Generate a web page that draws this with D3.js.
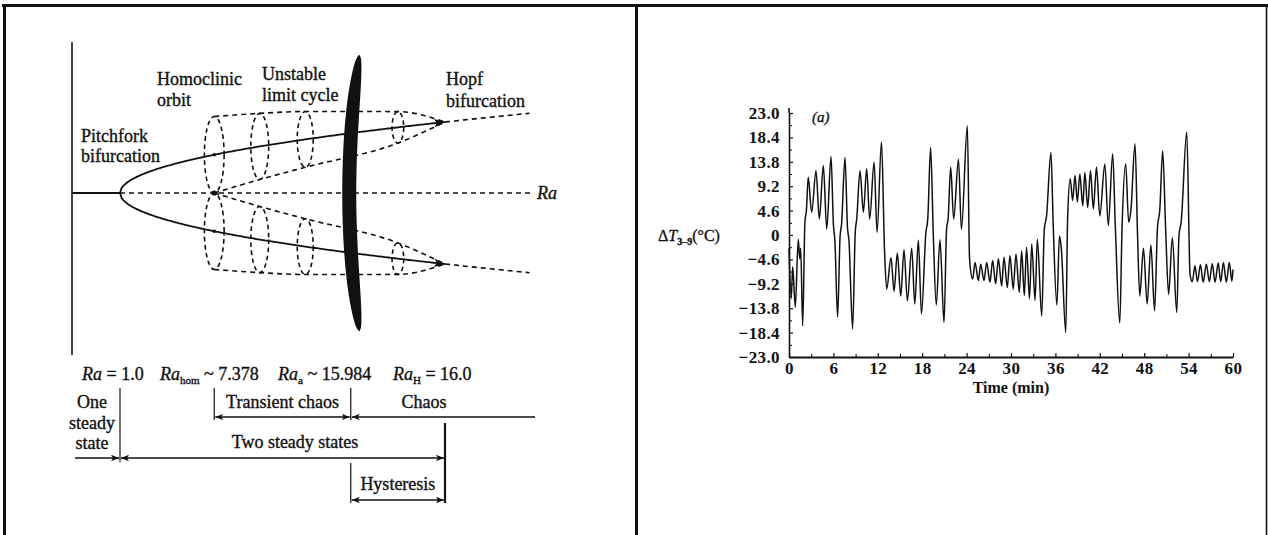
<!DOCTYPE html>
<html>
<head>
<meta charset="utf-8">
<script src="https://cdn.jsdelivr.net/npm/d3@7/dist/d3.min.js"></script>
<style>
  html, body { margin: 0; padding: 0; background: #fff; }
  svg { display: block; }
  .serif { font-family: "Liberation Serif", "DejaVu Serif", serif; fill: #111; }
  .heavy { stroke: #111; stroke-width: 0.35px; }
</style>
</head>
<body>
<svg id="fig" width="1268" height="535"></svg>
<script>
// ---------- Left panel: bifurcation sequence of the Lorenz-type loop ----------
const criticalLabels = [
  { base: "Ra", sub: "", rel: "= 1.0" },
  { base: "Ra", sub: "hom", rel: "~ 7.378" },
  { base: "Ra", sub: "a", rel: "~ 15.984" },
  { base: "Ra", sub: "H", rel: "= 16.0" }
];
const criticalRa = [1.0, 7.378, 15.984, 16.0];
// schematic stage of each critical value along the diagram (0 = pitchfork, 1 = Hopf)
const criticalStage = [0, 0.29, 0.71, 1.0];

// unstable limit cycles drawn as cross-sections: stage and radius relative to the branch offset
const cycleStage = [0.29, 0.43, 0.57, 0.855];
const cycleRelRadius = [1.0, 0.71, 0.52, 0.24];

// ---------- Right panel: measured temperature difference ----------
const timeMin = [
  0.00, 0.30, 0.50, 0.85, 1.25, 1.45, 1.58, 1.85, 2.15, 2.35, 2.60,
  3.06, 3.65, 4.10, 4.64, 5.10, 5.68,
  6.00, 6.20, 6.57, 6.90, 7.10, 7.57, 7.90, 8.10, 8.60, 8.95, 9.15, 9.60,
  10.05, 10.50, 10.90, 11.50, 11.90, 12.50,
  12.90, 13.20, 13.78, 14.20, 14.64, 15.10, 15.54, 16.00, 16.58, 17.00, 17.48, 17.90, 18.50, 18.75, 19.14,
  19.50, 19.90, 20.40, 20.95, 21.30, 21.50, 21.85, 22.25, 22.90, 23.30, 24.10,
  24.40, 24.82, 25.14, 25.59, 25.90, 26.35, 26.71, 27.16, 27.52, 27.93, 28.29, 28.74, 29.05, 29.50,
  29.86, 30.30, 30.67, 31.12, 31.44, 31.80, 32.10, 32.50, 32.80, 33.25, 33.56, 34.15,
  34.50, 34.80, 35.40, 35.70, 36.20, 36.55, 36.80, 37.40, 37.65, 38.00,
  38.33, 38.65, 38.97, 39.30, 39.70, 39.98, 40.36, 40.74, 41.13, 41.55, 42.00, 42.68, 43.15, 43.74,
  44.10, 44.70, 45.00, 45.50, 45.90, 46.20, 46.76, 47.10, 47.40, 47.90, 48.40, 48.90, 49.40, 49.80, 50.10, 50.50,
  50.90, 51.30, 51.80, 52.40, 52.70, 53.00, 53.75,
  54.20, 54.50, 54.86, 55.20, 55.60, 55.97, 56.40, 56.80, 57.20, 57.57, 58.00, 58.34, 58.70, 59.10, 59.50, 59.85, 60.00
];
const deltaT = [
  -2.5, -12.0, -6.0, -13.6, -0.8, -4.5, -2.5, -17.1, 2.4, 4.6, 10.9,
  4.3, 12.1, 3.0, 13.1, 1.1, 14.8,
  2.0, -1.0, -15.5, -0.3, 2.0, 14.6, 1.5, -1.0, -17.7, 0.5, 3.0, 12.1,
  4.3, 12.5, 3.0, 13.7, 0.5, 17.6,
  -2.5, -10.2, -4.3, -10.6, -3.4, -11.5, -2.8, -12.4, -2.5, -13.0, -1.0, -14.9, 0.5, 3.0, 16.5,
  0.0, -13.2, -0.9, -16.5, 1.3, 3.0, 12.8, 3.0, 14.3, 1.1, 20.6,
  -4.5, -8.3, -5.2, -8.6, -5.5, -8.6, -5.2, -8.9, -4.8, -9.2, -4.5, -9.6, -4.2, -9.9,
  -3.9, -10.2, -3.6, -10.8, -3.0, -11.4, -2.3, -12.0, -1.7, -12.3, -0.8, -15.3,
  1.1, 3.5, 15.6, 2.0, -13.2, -0.2, -2.5, -18.4, 3.1, 10.6,
  6.5, 11.2, 6.2, 11.5, 5.5, 11.8, 5.2, 12.1, 4.9, 12.8, 3.6, 13.4, 1.8, 15.3,
  1.5, -16.6, 1.0, 13.4, 2.4, 4.6, 17.2, 0.0, -11.5, -2.5, -13.0, -1.9, -14.3, 1.5, 4.6, 15.9,
  1.0, -11.2, -0.5, -14.6, -0.1, 2.5, 19.4,
  -7.5, -8.8, -5.8, -8.8, -5.6, -8.9, -5.5, -8.8, -5.4, -8.9, -5.3, -8.8, -5.2, -8.9, -5.2, -8.7, -6.5
];
const timeTicks = [0, 6, 12, 18, 24, 30, 36, 42, 48, 54, 60];
const tempTicks = [-23.0, -18.4, -13.8, -9.2, -4.6, 0, 4.6, 9.2, 13.8, 18.4, 23.0];

// ---------------------------------------------------------------------------
const svg = d3.select("#fig");
const ink = "#111";
const dash = "5,4";

// arrowheads
const defs = svg.append("defs");
function arrowMarker(id, size) {
  defs.append("marker")
    .attr("id", id)
    .attr("viewBox", "0 0 10 10")
    .attr("refX", 10).attr("refY", 5)
    .attr("markerWidth", size).attr("markerHeight", size)
    .attr("markerUnits", "userSpaceOnUse")
    .attr("orient", "auto-start-reverse")
    .append("path")
    .attr("d", "M0,1 L10,5 L0,9 L2.5,5 Z")
    .attr("fill", ink);
}
arrowMarker("arr", 8);
arrowMarker("arrBig", 11);

// outer frame
const frame = svg.append("g").attr("stroke", ink).attr("fill", "none");
frame.append("line").attr("x1", 2).attr("x2", 1268).attr("y1", 5.5).attr("y2", 5.5).attr("stroke-width", 3);
frame.append("line").attr("x1", 4.5).attr("x2", 4.5).attr("y1", 4).attr("y2", 535).attr("stroke-width", 3);
frame.append("line").attr("x1", 636.5).attr("x2", 636.5).attr("y1", 4).attr("y2", 535).attr("stroke-width", 3);
frame.append("line").attr("x1", 1266.5).attr("x2", 1266.5).attr("y1", 4).attr("y2", 535).attr("stroke-width", 1.6);

// ===================== left panel =====================
const L = svg.append("g");
const stageX = d3.scaleLinear().domain([0, 1]).range([120, 445]);
const raX = d3.scaleLinear().domain(criticalRa).range(criticalStage.map(stageX));
const axisY = 193;
const branchAmp = 71;        // offset of the convective branches at the Hopf point
const axisLeftX = 72, axisRightX = 530;
const stageEnd = stageX.invert(axisRightX);
const offset = s => branchAmp * Math.sqrt(Math.max(0, s));

// vertical axis
L.append("line").attr("x1", axisLeftX).attr("x2", axisLeftX).attr("y1", 42).attr("y2", 355)
  .attr("stroke", ink).attr("stroke-width", 1.6);

// conduction state: stable up to the pitchfork, unstable beyond
L.append("line").attr("x1", axisLeftX).attr("x2", stageX(0)).attr("y1", axisY).attr("y2", axisY)
  .attr("stroke", ink).attr("stroke-width", 1.8);
L.append("line").attr("x1", stageX(0)).attr("x2", axisRightX).attr("y1", axisY).attr("y2", axisY)
  .attr("stroke", ink).attr("stroke-width", 1.6).attr("stroke-dasharray", dash);

// convective branches
const lineXY = d3.line().x(d => d[0]).y(d => d[1]);
[-1, 1].forEach(sign => {
  const solid = d3.range(0, 1.0001, 0.005).map(s => [stageX(s), axisY + sign * offset(s)]);
  const broken = d3.range(1, stageEnd + 0.001, 0.01).map(s => [stageX(s), axisY + sign * offset(s)]);
  L.append("path").attr("d", lineXY(solid)).attr("fill", "none")
    .attr("stroke", ink).attr("stroke-width", 1.8).attr("marker-end", "url(#arrBig)");
  L.append("path").attr("d", lineXY(broken)).attr("fill", "none")
    .attr("stroke", ink).attr("stroke-width", 1.6).attr("stroke-dasharray", dash);

  // cone of unstable limit cycles shrinking onto the branch at the Hopf point
  const outer = cycleStage.map((s, i) => [stageX(s), axisY + sign * offset(s) * (1 + cycleRelRadius[i])]);
  const inner = cycleStage.map((s, i) => [stageX(s), axisY + sign * offset(s) * (1 - cycleRelRadius[i])]);
  const hopf = [stageX(1), axisY + sign * offset(1)];
  const smooth = d3.line().x(d => d[0]).y(d => d[1]).curve(d3.curveMonotoneX);
  L.append("path").attr("d", smooth(outer.concat([hopf]))).attr("fill", "none")
    .attr("stroke", ink).attr("stroke-width", 1.6).attr("stroke-dasharray", dash);
  L.append("path").attr("d", smooth(inner.concat([hopf]))).attr("fill", "none")
    .attr("stroke", ink).attr("stroke-width", 1.6).attr("stroke-dasharray", dash);

  // cross-sections of the limit cycles
  cycleStage.forEach((s, i) => {
    const ry = offset(s) * cycleRelRadius[i];
    L.append("ellipse")
      .attr("cx", stageX(s)).attr("cy", axisY + sign * offset(s))
      .attr("rx", 3 + ry * 0.18).attr("ry", ry)
      .attr("fill", "none").attr("stroke", ink).attr("stroke-width", 1.6)
      .attr("stroke-dasharray", "4.5,3.5");
  });

  // small flow marks on the branch near the homoclinic orbit
  L.append("circle").attr("cx", stageX(criticalStage[1])).attr("cy", axisY + sign * offset(criticalStage[1]))
    .attr("r", 1.8).attr("fill", ink);
});

// homoclinic point on the axis
L.append("circle").attr("cx", raX(criticalRa[1])).attr("cy", axisY).attr("r", 2.6).attr("fill", ink);

// strange attractor, drawn as a dark lens at Ra_a
const lensX = raX(criticalRa[2]);
const lens = d3.area()
  .y(t => axisY + t * 138.5)
  .x0(t => lensX - 1.5 + 10 * t * t - 7 * Math.sqrt(Math.max(0, 1 - Math.pow(Math.abs(t), 4))))
  .x1(t => lensX - 1.5 + 10 * t * t + 7 * Math.sqrt(Math.max(0, 1 - Math.pow(Math.abs(t), 4))))
  .curve(d3.curveBasis);
L.append("path").attr("d", lens(d3.range(-1, 1.0001, 0.02))).attr("fill", ink);

// annotations
const fs = 18;
function multiline(g, lines, x, y, lh, anchor) {
  const t = g.append("text").attr("class", "serif heavy").attr("font-size", fs)
    .attr("text-anchor", anchor || "start");
  lines.forEach((s, i) => t.append("tspan").attr("x", x).attr("y", y + i * lh).text(s));
  return t;
}
multiline(L, ["Pitchfork", "bifurcation"], 81, 142, 20);
multiline(L, ["Homoclinic", "orbit"], 157, 85, 21);
multiline(L, ["Unstable", "limit cycle"], 262, 80, 21);
multiline(L, ["Hopf", "bifurcation"], 446, 85, 22);
L.append("text").attr("class", "serif heavy").attr("font-size", fs).attr("font-style", "italic")
  .attr("x", 537).attr("y", 199).text("Ra");

// critical values
const critX = [82, 160, 278, 393];
const crit = L.append("text").attr("class", "serif heavy").attr("font-size", fs).attr("y", 380);
criticalLabels.forEach((c, i) => {
  crit.append("tspan").attr("x", critX[i]).attr("font-style", "italic").text(c.base);
  if (c.sub) crit.append("tspan").attr("font-size", 11).attr("dy", 4).text(c.sub);
  crit.append("tspan").attr("dy", c.sub ? -4 : 0).text(" " + c.rel);
});

// regime bars
const R = L.append("g").attr("stroke", ink).attr("fill", "none");
const x1 = raX(criticalRa[0]), xh = raX(criticalRa[1]), xa = raX(criticalRa[2]), xH = raX(criticalRa[3]);
const yChaos = 417, ySteady = 458, yHyst = 500;
function vline(x, ya, yb, w) {
  R.append("line").attr("x1", x).attr("x2", x).attr("y1", ya).attr("y2", yb).attr("stroke-width", w || 1.2);
}
function hline(xa_, xb_, y, startArrow, endArrow) {
  const l = R.append("line").attr("x1", xa_).attr("x2", xb_).attr("y1", y).attr("y2", y).attr("stroke-width", 1.4);
  if (startArrow) l.attr("marker-start", "url(#arr)");
  if (endArrow) l.attr("marker-end", "url(#arr)");
}
vline(x1, 388, 462);
vline(xh, 388, 420);
vline(xa, 388, 420);
vline(xa, 463, 503);
vline(xH, 423, 503, 2.2);
hline(xh + 1, xa - 1, yChaos, true, true);
hline(xa + 1, 535, yChaos, true, false);
hline(75, x1 - 1, ySteady, false, true);
hline(x1 + 1, xH - 1, ySteady, true, true);
hline(xa + 1, xH - 1, yHyst, true, true);

const tx = (s, x, y, anchor) => L.append("text").attr("class", "serif heavy").attr("font-size", fs)
  .attr("x", x).attr("y", y).attr("text-anchor", anchor || "middle").text(s);
tx("Transient chaos", (xh + xa) / 2, 408);
tx("Chaos", 424, 408);
multiline(L, ["One", "steady", "state"], 92, 408, 20.5, "middle");
tx("Two steady states", 295, 448);
tx("Hysteresis", (xa + xH) / 2, 490);

// ===================== right panel =====================
const P = svg.append("g");
const xT = d3.scaleLinear().domain([0, 60]).range([789, 1233]);
const yT = d3.scaleLinear().domain([-23, 23]).range([357, 113]);

const fmtTemp = v => v === 0 ? "0" : (v < 0 ? "\u2212" : "") + Math.abs(v).toFixed(1);

// y axis with inward ticks and intermediate minor ticks
const yAx = P.append("g").attr("transform", `translate(${xT(0)},0)`)
  .call(d3.axisLeft(yT).tickValues(tempTicks).tickFormat(fmtTemp).tickSizeInner(-4).tickSizeOuter(0).tickPadding(9));
const yMinor = d3.range(tempTicks.length - 1).map(i => (tempTicks[i] + tempTicks[i + 1]) / 2);
P.append("g").attr("transform", `translate(${xT(0)},0)`)
  .call(d3.axisLeft(yT).tickValues(yMinor).tickFormat("").tickSizeInner(-3).tickSizeOuter(0))
  .select(".domain").remove();

// x axis with inward ticks every 3 min
const xMinor = d3.range(3, 60, 6);
const xAx = P.append("g").attr("transform", `translate(0,${yT(-23)})`)
  .call(d3.axisBottom(xT).tickValues(timeTicks).tickFormat(d3.format("d")).tickSizeInner(-4).tickSizeOuter(0).tickPadding(5));
P.append("g").attr("transform", `translate(0,${yT(-23)})`)
  .call(d3.axisBottom(xT).tickValues(xMinor).tickFormat("").tickSizeInner(-3).tickSizeOuter(0))
  .select(".domain").remove();

[yAx, xAx].forEach(g => {
  g.attr("font-size", 17).attr("font-family", null);
  g.selectAll("text").attr("class", "serif").attr("font-size", 17).attr("font-weight", "bold")
    .attr("letter-spacing", 0.4).attr("fill", ink);
  g.selectAll("line").attr("stroke", ink).attr("stroke-width", 1.2);
});
yAx.select(".domain").attr("stroke", ink).attr("stroke-width", 1.6);
xAx.select(".domain").attr("stroke", ink).attr("stroke-width", 2.2);
// axis line continues slightly above the top tick
P.append("line").attr("x1", xT(0)).attr("x2", xT(0)).attr("y1", yT(23) - 5).attr("y2", yT(23))
  .attr("stroke", ink).attr("stroke-width", 1.6);

// trace
const series = timeMin.map((t, i) => [t, deltaT[i]]);
P.append("path")
  .attr("d", d3.line().x(d => xT(d[0])).y(d => yT(d[1])).curve(d3.curveMonotoneX)(series))
  .attr("fill", "none").attr("stroke", ink).attr("stroke-width", 1.5).attr("stroke-linejoin", "round");

// axis titles
P.append("text").attr("class", "serif").attr("font-size", 16).attr("font-weight", "bold")
  .attr("x", (xT(0) + xT(60)) / 2).attr("y", 393).attr("text-anchor", "middle").text("Time (min)");
const yl = P.append("text").attr("class", "serif heavy").attr("font-size", 16).attr("x", 658).attr("y", yT(0) + 6);
yl.append("tspan").text("\u0394");
yl.append("tspan").attr("font-style", "italic").text("T");
yl.append("tspan").attr("font-size", 10).attr("font-weight", "bold").attr("dy", 4).text("3\u20139");
yl.append("tspan").attr("dy", -4).text("(\u00B0C)");
P.append("text").attr("class", "serif heavy").attr("font-size", 15).attr("font-style", "italic")
  .attr("x", 812).attr("y", 122).text("(a)");
</script>
</body>
</html>
